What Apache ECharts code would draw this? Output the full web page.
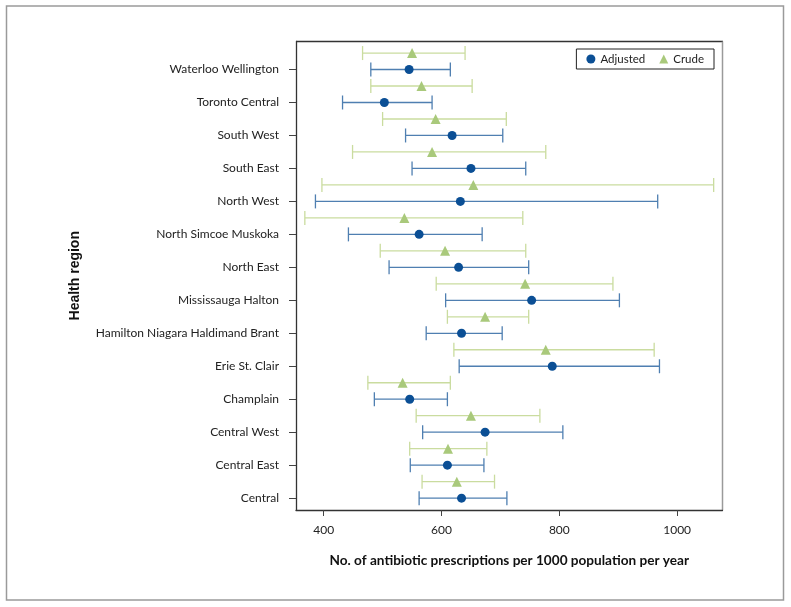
<!DOCTYPE html>
<html>
<head>
<meta charset="utf-8">
<script src="https://cdn.jsdelivr.net/npm/echarts@6/dist/echarts.min.js"></script>
<style>
html,body{margin:0;padding:0;background:#fff;}
#chart{width:791px;height:607px;}
</style>
</head>
<body>
<div id="chart"></div>
<script>
// Regions, bottom to top
const regions = ["Central","Central East","Central West","Champlain","Erie St. Clair","Hamilton Niagara Haldimand Brant","Mississauga Halton","North East","North Simcoe Muskoka","North West","South East","South West","Toronto Central","Waterloo Wellington"];
// Adjusted: estimate, lower, upper
const adjEst   = [634, 610, 674, 546, 788, 634, 753, 629, 562, 632, 650, 618, 503, 545];
const adjLow   = [562, 547, 568, 486, 630, 574, 607, 511, 442, 386, 550, 539, 432, 480];
const adjHigh  = [711, 672, 806, 610, 970, 703, 902, 748, 669, 967, 743, 704, 584, 615];
// Crude: estimate, lower, upper
const crudeEst  = [626, 611, 650, 534, 777, 674, 742, 606, 537, 654, 584, 590, 566, 550];
const crudeLow  = [567, 546, 557, 475, 621, 610, 591, 496, 368, 397, 449, 500, 480, 466];
const crudeHigh = [690, 677, 767, 615, 961, 748, 891, 743, 738, 1062, 777, 710, 652, 640];
const xTicks = [400, 600, 800, 1000];

const FONT = 'Lato';
const BLUE = '#0b4f95', BLUE_BAR = '#4f7fb1';
const GREEN = '#a9c97b', GREEN_BAR = '#cadc9f';

const adjPts = regions.map((r,i)=>[adjEst[i], i]);
const crudePts = regions.map((r,i)=>[crudeEst[i], i+0.5]);
const adjBars = regions.map((r,i)=>[adjLow[i], adjHigh[i], i]);
const crudeBars = regions.map((r,i)=>[crudeLow[i], crudeHigh[i], i+0.5]);

function errRender(color){
  return function(params, api){
    const y = api.value(2);
    const p1 = api.coord([api.value(0), y]);
    const p2 = api.coord([api.value(1), y]);
    const h = 7;
    const st = {stroke: color, lineWidth: 1.3};
    return {type:'group', children:[
      {type:'line', shape:{x1:p1[0],y1:p1[1],x2:p2[0],y2:p2[1]}, style:st},
      {type:'line', shape:{x1:p1[0],y1:p1[1]-h,x2:p1[0],y2:p1[1]+h}, style:st},
      {type:'line', shape:{x1:p2[0],y1:p2[1]-h,x2:p2[0],y2:p2[1]+h}, style:st}
    ]};
  };
}

const chart = echarts.init(document.getElementById('chart'), null, {renderer:'canvas'});
chart.setOption({
  animation:false,
  backgroundColor:'#fff',
  textStyle:{fontFamily:FONT},
  graphic:[
    {type:'rect', shape:{x:6.5,y:6,width:777,height:594}, style:{fill:'none',stroke:'#9a9a9a',lineWidth:1.5}, z:-1},
    {type:'line', shape:{x1:296,y1:41.5,x2:723,y2:41.5}, style:{stroke:'#333',lineWidth:1.3}},
    {type:'line', shape:{x1:722.5,y1:41.5,x2:722.5,y2:510}, style:{stroke:'#9a9a9a',lineWidth:1.5}}
  ],
  grid:{left:296, right:68.5, top:41.5, bottom:97, containLabel:false},
  legend:{
    right:77, top:49,
    orient:'horizontal',
    itemGap:14,
    itemWidth:9, itemHeight:9,
    padding:[4,10,4,10],
    borderColor:'#222', borderWidth:1,
    textStyle:{fontFamily:FONT, fontSize:11.5, color:'#222'},
    data:[{name:'Adjusted', icon:'circle', itemStyle:{color:BLUE, opacity:1}},{name:'Crude', icon:'triangle', itemStyle:{color:GREEN, opacity:1}}]
  },
  xAxis:{
    type:'value', min:353, max:1077,
    axisLine:{show:true, onZero:false, lineStyle:{color:'#333', width:1.3}},
    axisTick:{show:true, length:6, lineStyle:{color:'#444'}, customValues:xTicks},
    axisLabel:{fontFamily:FONT, fontSize:12, color:'#222', margin:14, customValues:xTicks,
      formatter:function(v){ return String(v); }},
    splitLine:{show:false},
    name:'No. of antibiotic prescriptions per 1000 population per year',
    nameLocation:'middle', nameGap:44,
    nameTextStyle:{fontFamily:FONT, fontSize:13.6, fontWeight:'bold', color:'#111'}
  },
  yAxis:{
    type:'value', min:-0.36, max:13.85,
    axisLine:{show:true, onZero:false, lineStyle:{color:'#333', width:1.3}},
    axisTick:{show:true, length:7, lineStyle:{color:'#444'}, customValues:regions.map((r,i)=>i)},
    axisLabel:{fontFamily:FONT, fontSize:12, color:'#222', margin:17,
      customValues:regions.map((r,i)=>i),
      formatter:function(v){ return regions[Math.round(v)] || ''; }},
    splitLine:{show:false},
    name:'Health region',
    nameLocation:'middle', nameGap:214, nameRotate:90,
    nameTextStyle:{fontFamily:'Liberation Sans', fontSize:14, fontWeight:'bold', color:'#111'}
  },
  series:[
    {name:'CrudeBars', type:'custom', renderItem:errRender(GREEN_BAR), data:crudeBars, encode:{x:[0,1], y:2}, z:1, silent:true},
    {name:'AdjBars', type:'custom', renderItem:errRender(BLUE_BAR), data:adjBars, encode:{x:[0,1], y:2}, z:1, silent:true},
    {name:'Adjusted', type:'scatter', symbol:'circle', symbolSize:9, itemStyle:{color:BLUE, opacity:1}, data:adjPts, z:3},
    {name:'Crude', type:'scatter', symbol:'triangle', symbolSize:10, itemStyle:{color:GREEN, opacity:1}, data:crudePts, z:3}
  ]
});
</script>
</body>
</html>
